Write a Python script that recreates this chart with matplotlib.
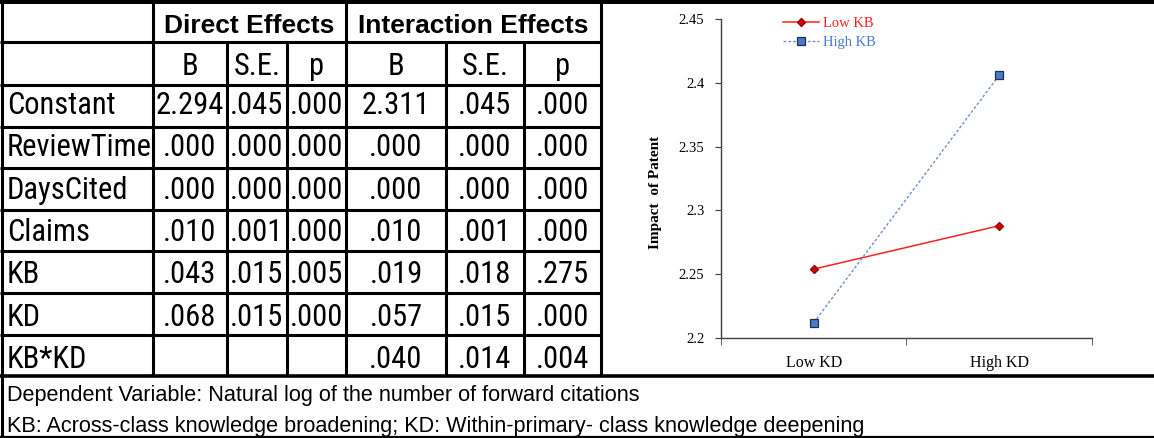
import matplotlib
matplotlib.use("Agg")
import matplotlib.pyplot as plt
from matplotlib.patches import Rectangle
from matplotlib import font_manager

# ---------------- data ----------------
row_labels = ["Constant", "ReviewTime", "DaysCited", "Claims", "KB", "KD", "KB*KD"]
direct_B = ["2.294", ".000", ".000", ".010", ".043", ".068", ""]
direct_SE = [".045", ".000", ".000", ".001", ".015", ".015", ""]
direct_p = [".000", ".000", ".000", ".000", ".005", ".000", ""]
inter_B = ["2.311", ".000", ".000", ".010", ".019", ".057", ".040"]
inter_SE = [".045", ".000", ".000", ".001", ".018", ".015", ".014"]
inter_p = [".000", ".000", ".000", ".000", ".275", ".000", ".004"]
group_headers = ["Direct Effects", "Interaction Effects"]
sub_headers = ["B", "S.E.", "p", "B", "S.E.", "p"]
footnotes = ["Dependent Variable: Natural log of the number of forward citations",
             "KB: Across-class knowledge broadening; KD: Within-primary- class knowledge deepening"]

kd_levels = ["Low KD", "High KD"]
low_kb = [2.254, 2.288]
high_kb = [2.212, 2.406]
y_ticks = [2.2, 2.25, 2.3, 2.35, 2.4, 2.45]
y_ticklabels = ["2.2", "2.25", "2.3", "2.35", "2.4", "2.45"]

# ---------------- fonts ----------------
avail = {f.name for f in font_manager.fontManager.ttflist}
narrow_choice = None
for cand in ["Liberation Sans Narrow", "Roboto Condensed", "Archivo Narrow",
             "Asap Condensed", "Barlow Condensed"]:
    if cand in avail:
        narrow_choice = cand
        break
SANS = ["Liberation Sans", "DejaVu Sans"]
NARROW = [narrow_choice, "Liberation Sans", "DejaVu Sans"] if narrow_choice else SANS
SERIF = ["Liberation Serif", "DejaVu Serif"]
FS = 22 if narrow_choice else 18.5

# ---------------- layout ----------------
W, H = 1154, 438
fig = plt.figure(figsize=(W / 100, H / 100), dpi=100)
tab = fig.add_axes([0, 0, 1, 1])
tab.set_xlim(0, W)
tab.set_ylim(H, 0)
tab.axis("off")

LW = 2.2
col_x = [1.5, 153, 227, 287, 346, 446, 524, 601]
row_y = [4, 42, 85, 127, 168, 210, 251, 293, 335, 376]

tab.add_patch(Rectangle((0, 0), W, 4, color="black", lw=0))
for y in row_y[1:-1]:
    tab.plot([0, col_x[-1]], [y, y], color="black", lw=LW, solid_capstyle="butt")
tab.plot([0, W], [376, 376], color="black", lw=LW + 0.4, solid_capstyle="butt")
tab.plot([0, W], [436.8, 436.8], color="black", lw=1.6, solid_capstyle="butt")
tab.plot([col_x[0], col_x[0]], [0, 437], color="black", lw=LW, solid_capstyle="butt")
for x in [col_x[1], col_x[4], col_x[7]]:
    tab.plot([x, x], [0, 376], color="black", lw=LW, solid_capstyle="butt")
for x in [col_x[2], col_x[3], col_x[5], col_x[6]]:
    tab.plot([x, x], [42, 376], color="black", lw=LW, solid_capstyle="butt")

tab.text((col_x[1] + col_x[4]) / 2, 33, group_headers[0], ha="center", va="baseline",
         fontsize=19, fontweight="bold", family=SANS)
tab.text((col_x[4] + col_x[7]) / 2, 33, group_headers[1], ha="center", va="baseline",
         fontsize=19, fontweight="bold", family=SANS)
for j, s in enumerate(sub_headers):
    tab.text((col_x[j + 1] + col_x[j + 2]) / 2, 75, s, ha="center", va="baseline",
             fontsize=FS, family=NARROW)

cols = [direct_B, direct_SE, direct_p, inter_B, inter_SE, inter_p]
first_base, last_base = 114, 368
step = (last_base - first_base) / (len(row_labels) - 1)
for i, lab in enumerate(row_labels):
    base = first_base + i * step
    tab.text(7, base, lab, ha="left", va="baseline", fontsize=FS, family=NARROW)
    for j, c in enumerate(cols):
        tab.text((col_x[j + 1] + col_x[j + 2]) / 2, base, c[i], ha="center",
                 va="baseline", fontsize=FS, family=NARROW)

tab.text(7, 401, footnotes[0], ha="left", va="baseline", fontsize=15.6, family=SANS)
tab.text(7, 432, footnotes[1], ha="left", va="baseline", fontsize=15.6, family=SANS)

# ---------------- chart ----------------
ax_l, ax_r, ax_t, ax_b = 721, 1092, 19, 338
ax = fig.add_axes([ax_l / W, (H - ax_b) / H, (ax_r - ax_l) / W, (ax_b - ax_t) / H])
xs = list(range(len(kd_levels)))
ax.plot(xs, low_kb, color="#FF2020", lw=1.1, marker="D", markersize=4,
        markerfacecolor="#D00000", markeredgecolor="#A00000", label="Low KB")
ax.plot(xs, high_kb, color="#6F8FC8", lw=1.0, ls=(0, (2, 1.5)), marker="s", markersize=6,
        markerfacecolor="#4A7BC8", markeredgecolor="#1F2F4F", markeredgewidth=0.9,
        label="High KB")
ax.set_xlim(-0.5, 1.5)
ax.set_ylim(2.2, 2.45)
ax.set_yticks(y_ticks)
ax.set_yticklabels(y_ticklabels, family=SERIF, fontsize=10.5)
ax.set_xticks(xs)
ax.set_xticklabels(kd_levels, family=SERIF, fontsize=11.5)
ax.set_xticks([-0.5, 0.5, 1.5], minor=True)
ax.tick_params(axis="x", which="major", length=0, pad=12)
ax.tick_params(axis="x", which="minor", length=5, direction="out", color="#404040")
ax.tick_params(axis="y", length=4, direction="out", color="#404040", pad=8)
for s in ["top", "right"]:
    ax.spines[s].set_visible(False)
for s in ["left", "bottom"]:
    ax.spines[s].set_color("#404040")
    ax.spines[s].set_linewidth(1.0)
ax.set_ylabel("Impact  of Patent", family=SERIF, fontweight="bold", fontsize=11)
ax.yaxis.set_label_coords(-0.159, 0.458)

leg = ax.legend(loc="upper left", bbox_to_anchor=(0.167, 1.008), frameon=False,
                prop={"family": SERIF, "size": 10.5}, handlelength=2.5,
                handletextpad=0.27, labelspacing=0.42, borderaxespad=0, borderpad=0)
for txt, col in zip(leg.get_texts(), ["#FF2020", "#4A7BC8"]):
    txt.set_color(col)

fig.savefig("out.png", dpi=100)
